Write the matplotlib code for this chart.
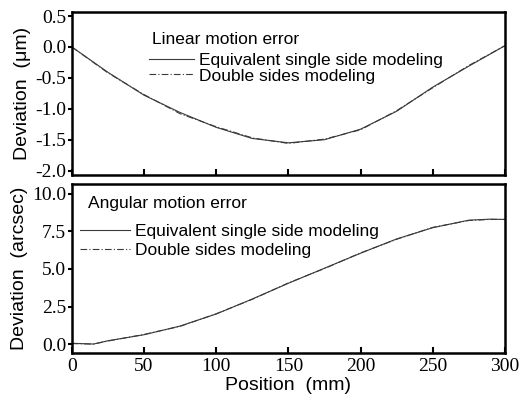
import matplotlib
matplotlib.use("Agg")
import matplotlib.pyplot as plt
import numpy as np

# positions along the guide (mm)
pos = [0, 25, 50, 75, 100, 125, 150, 175, 200, 225, 250, 275, 300]

# linear motion error (um)
lin_single = [0.0, -0.41, -0.78, -1.06, -1.30, -1.48, -1.55, -1.50, -1.33, -1.04, -0.65, -0.31, 0.02]
lin_double = [0.0, -0.42, -0.77, -1.08, -1.29, -1.47, -1.56, -1.49, -1.34, -1.03, -0.66, -0.30, 0.02]

# angular motion error (arcsec)
ang_pos = [0, 15, 25, 50, 75, 100, 125, 150, 175, 200, 225, 250, 275, 290, 300]
ang_single = [0.05, 0.0, 0.22, 0.62, 1.2, 2.0, 3.0, 4.05, 5.05, 6.05, 7.0, 7.75, 8.25, 8.32, 8.3]
ang_double = [0.03, 0.0, 0.20, 0.64, 1.18, 2.02, 2.98, 4.07, 5.03, 6.07, 6.98, 7.77, 8.23, 8.3, 8.3]

serif = 'Liberation Serif'
sans = 'Liberation Sans'

fig = plt.figure(figsize=(5.21, 4.05), dpi=100)
ax1 = fig.add_axes([0.138, 0.568, 0.831, 0.403])
ax2 = fig.add_axes([0.138, 0.129, 0.831, 0.417])

lc = '#3a3a3a'
for ax, x, s, d in [(ax1, pos, lin_single, lin_double), (ax2, ang_pos, ang_single, ang_double)]:
    ax.plot(x, s, color=lc, lw=0.8, ls='-', label='Equivalent single side modeling')
    ax.plot(x, d, color=lc, lw=0.8, ls=(0, (6, 2, 1, 2)), label='Double sides modeling')
    ax.set_xlim(0, 300)
    ax.set_xticks([0, 50, 100, 150, 200, 250, 300])
    for sp in ax.spines.values():
        sp.set_linewidth(1.8)
    ax.tick_params(axis='x', direction='in', length=4, width=1.5)
    ax.tick_params(axis='y', direction='out', length=3, width=1.5, pad=1)

ax1.set_ylim(-2.07, 0.57)
ax1.set_yticks([0.5, 0.0, -0.5, -1.0, -1.5, -2.0])
ax1.set_yticklabels(['0.5', '0.0', '-0.5', '-1.0', '-1.5', '-2.0'], fontfamily=serif, fontsize=14)
ax1.set_xticklabels([])

ax2.set_ylim(-0.58, 10.67)
ax2.set_yticks([0.0, 2.5, 5.0, 7.5, 10.0])
ax2.set_yticklabels(['0.0', '2.5', '5.0', '7.5', '10.0'], fontfamily=serif, fontsize=14)
ax2.set_xticklabels(['0', '50', '100', '150', '200', '250', '300'], fontfamily=serif, fontsize=14)

ax1.set_ylabel('Deviation  (μm)', fontfamily=sans, fontsize=14, labelpad=3)
ax2.set_ylabel('Deviation  (arcsec)', fontfamily=sans, fontsize=14, labelpad=3)
ax2.set_xlabel('Position  (mm)', fontfamily=sans, fontsize=14, labelpad=2)

# panel titles inside the plots
ax1.text(0.185, 0.828, 'Linear motion error', transform=ax1.transAxes,
         fontfamily=sans, fontsize=12.5, va='center', ha='left')
ax2.text(0.037, 0.886, 'Angular motion error', transform=ax2.transAxes,
         fontfamily=sans, fontsize=12.5, va='center', ha='left')

ax1.legend(loc='upper left', bbox_to_anchor=(0.178, 0.748), borderaxespad=0,
           frameon=False, handlelength=2.6, handletextpad=0.3,
           labelspacing=0.02, borderpad=0, prop={'family': sans, 'size': 12.5})
ax2.legend(loc='upper left', bbox_to_anchor=(0.018, 0.764), borderaxespad=0,
           frameon=False, handlelength=2.9, handletextpad=0.3,
           labelspacing=0.22, borderpad=0, prop={'family': sans, 'size': 12.5})

fig.savefig('out.png', dpi=100)
